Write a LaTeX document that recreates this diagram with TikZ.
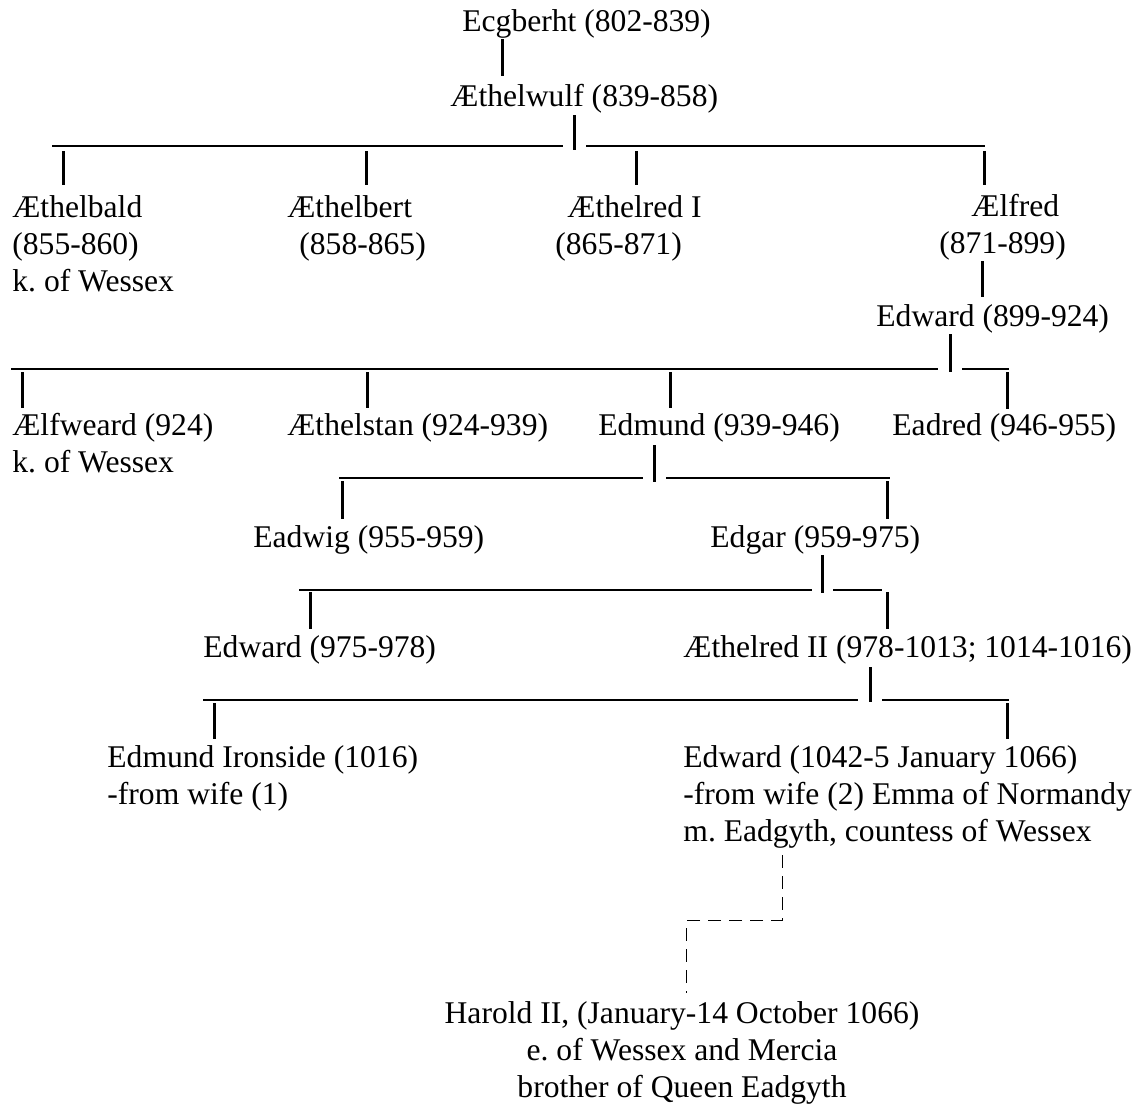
\documentclass[tikz,border=0pt]{standalone}
\usepackage{fontspec}
\setmainfont{Liberation Serif}
\usetikzlibrary{positioning}
\frenchspacing

\begin{document}
\begin{tikzpicture}[x=0.5pt, y=-0.5pt,
        king/.style={anchor=base west, inner sep=0pt, align=left, font=\fontsize{15.8}{18.5}\selectfont},
        bar/.style={line width=1.5pt},
        rail/.style={line width=0.7pt},
        link/.style={line width=0.5pt, dash pattern=on 6.5pt off 4pt}
        ]
        \useasboundingbox (0,0) rectangle (1143,1108);

        % Nodes (multi-line nodes sit on the baseline of their last line)
        \node (ecgberht) [king] at (462,32) {Ecgberht (802-839)};
        \node (aethelwulf) [king] at (450,106) {Æthelwulf (839-858)};
        \node (aethelbald) [king] at (12,291) {Æthelbald\\(855-860)\\k. of Wessex};
        \node (aethelbert) [king] at (287,254) {Æthelbert\\\hspace*{6pt}(858-865)};
        \node (aethelredI) [king] at (555,254) {\hspace*{6pt}Æthelred I\\(865-871)};
        \node (aelfred) [king] at (939,253) {\hspace*{16pt}Ælfred\\(871-899)};
        \node (edwardA) [king] at (876,326) {Edward (899-924)};
        \node (aelfweard) [king] at (12,472) {Ælfweard (924)\\k. of Wessex};
        \node (aethelstan) [king] at (287,435) {Æthelstan (924-939)};
        \node (edmund) [king] at (598,435) {Edmund (939-946)};
        \node (eadred) [king] at (892,435) {Eadred (946-955)};
        \node (eadwig) [king] at (253,547) {Eadwig (955-959)};
        \node (edgar) [king] at (710,547) {Edgar (959-975)};
        \node (edwardB) [king] at (203,657) {Edward (975-978)};
        \node (aethelredII) [king] at (683,657) {Æthelred II (978-1013; 1014-1016)};
        \node (ironside) [king] at (107,804) {Edmund Ironside (1016)\\-from wife (1)};
        \node (confessor) [king] at (683,841) {Edward (1042-5 January 1066)\\-from wife (2) Emma of Normandy\\m. Eadgyth, countess of Wessex};
        \node (harold) [king, anchor=base, align=center] at (682,1097) {Harold II, (January-14 October 1066)\\e. of Wessex and Mercia\\brother of Queen Eadgyth};

        % Ecgberht
        \coordinate (e1) at (502,39); \coordinate (e2) at (502,76);
        \draw [bar] (e1) -- (e2);

        % Aethelwulf and sons
        \coordinate (w0) at (574,115); \coordinate (w1) at (574,150);
        \coordinate (wa) at (52,146); \coordinate (wb) at (563,146);
        \coordinate (wc) at (586,146); \coordinate (wd) at (985,146);
        \coordinate (w2) at (63,151); \coordinate (w3) at (63,185);
        \coordinate (w4) at (366,151); \coordinate (w5) at (366,185);
        \coordinate (w6) at (636,151); \coordinate (w7) at (636,185);
        \coordinate (w8) at (984,151); \coordinate (w9) at (984,185);
        \draw [bar] (w0) -- (w1);
        \draw [rail] (wa) -- (wb);
        \draw [rail] (wc) -- (wd);
        \draw [bar] (w2) -- (w3);
        \draw [bar] (w4) -- (w5);
        \draw [bar] (w6) -- (w7);
        \draw [bar] (w8) -- (w9);

        % Aelfred
        \coordinate (f1) at (982,261); \coordinate (f2) at (982,297);
        \draw [bar] (f1) -- (f2);

        % Edward and sons
        \coordinate (d0) at (950,334); \coordinate (d1) at (950,372);
        \coordinate (da) at (11,369); \coordinate (db) at (938,369);
        \coordinate (dc) at (962,369); \coordinate (dd) at (1009,369);
        \coordinate (d2) at (22,372); \coordinate (d3) at (22,408);
        \coordinate (d4) at (367,372); \coordinate (d5) at (367,408);
        \coordinate (d6) at (670,372); \coordinate (d7) at (670,408);
        \coordinate (d8) at (1007,372); \coordinate (d9) at (1007,409);
        \draw [bar] (d0) -- (d1);
        \draw [rail] (da) -- (db);
        \draw [rail] (dc) -- (dd);
        \draw [bar] (d2) -- (d3);
        \draw [bar] (d4) -- (d5);
        \draw [bar] (d6) -- (d7);
        \draw [bar] (d8) -- (d9);

        % Edmund and sons
        \coordinate (m0) at (654,445); \coordinate (m1) at (654,482);
        \coordinate (ma) at (339,478); \coordinate (mb) at (643,478);
        \coordinate (mc) at (666,478); \coordinate (md) at (890,478);
        \coordinate (m2) at (342,481); \coordinate (m3) at (342,519);
        \coordinate (m4) at (887,481); \coordinate (m5) at (887,519);
        \draw [bar] (m0) -- (m1);
        \draw [rail] (ma) -- (mb);
        \draw [rail] (mc) -- (md);
        \draw [bar] (m2) -- (m3);
        \draw [bar] (m4) -- (m5);

        % Edgar and sons
        \coordinate (g0) at (822,555); \coordinate (g1) at (822,593);
        \coordinate (ga) at (299,590); \coordinate (gb) at (812,590);
        \coordinate (gc) at (833,590); \coordinate (gd) at (882,590);
        \coordinate (g2) at (310,592); \coordinate (g3) at (310,629);
        \coordinate (g4) at (887,592); \coordinate (g5) at (887,629);
        \draw [bar] (g0) -- (g1);
        \draw [rail] (ga) -- (gb);
        \draw [rail] (gc) -- (gd);
        \draw [bar] (g2) -- (g3);
        \draw [bar] (g4) -- (g5);

        % Aethelred II and sons
        \coordinate (r0) at (870,667); \coordinate (r1) at (870,702);
        \coordinate (ra) at (203,700); \coordinate (rb) at (858,700);
        \coordinate (rc) at (882,700); \coordinate (rd) at (1009,700);
        \coordinate (r2) at (214,703); \coordinate (r3) at (214,739);
        \coordinate (r4) at (1007,703); \coordinate (r5) at (1007,739);
        \draw [bar] (r0) -- (r1);
        \draw [rail] (ra) -- (rb);
        \draw [rail] (rc) -- (rd);
        \draw [bar] (r2) -- (r3);
        \draw [bar] (r4) -- (r5);

        % Edward -> Harold (brother-in-law)
        \coordinate (h0) at (782,855); \coordinate (h1) at (782,920);
        \coordinate (h2) at (683,920);
        \coordinate (h3) at (686,928); \coordinate (h4) at (686,993);
        \draw [link] (h0) -- (h1) -- (h2);
        \draw [link] (h3) -- (h4);

    \end{tikzpicture}
\end{document}
